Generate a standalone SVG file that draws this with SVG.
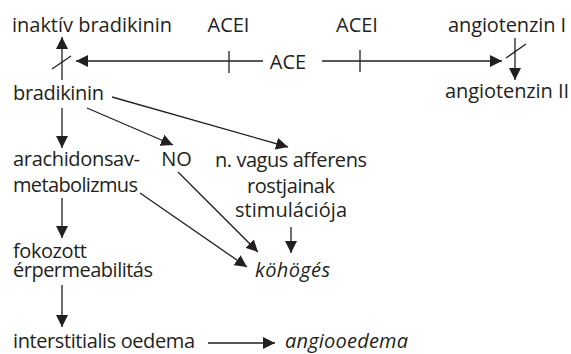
<svg xmlns="http://www.w3.org/2000/svg" width="571" height="354" viewBox="0 0 571 354">
<style>
text{font-family:"Open Sans","Noto Sans",sans-serif;font-size:20px;fill:#231f20}
.it{font-style:italic}
.c{text-anchor:middle}
#connectors line{stroke:#231f20;stroke-width:1.3;fill:none}
</style>
<defs>
<marker id="ah" viewBox="0 0 12 12" refX="12" refY="6" markerWidth="12" markerHeight="12" markerUnits="userSpaceOnUse" orient="auto">
<path d="M0,0 L12,6 L0,12 Z" fill="#231f20"/>
</marker>
</defs>
<rect width="571" height="354" fill="#fff"/>
<g id="n-inaktiv"><text x="12" y="32" textLength="160" lengthAdjust="spacing">inaktív bradikinin</text></g>
<g id="n-acei1"><text class="c" x="228.5" y="32">ACEI</text></g>
<g id="n-acei2"><text class="c" x="357" y="32">ACEI</text></g>
<g id="n-angio1"><text x="448" y="32" textLength="118" lengthAdjust="spacing">angiotenzin I</text></g>
<g id="n-ace"><text class="c" x="288" y="69">ACE</text></g>
<g id="n-bradikinin"><text x="13" y="100" textLength="91" lengthAdjust="spacing">bradikinin</text></g>
<g id="n-angio2"><text x="445" y="98" textLength="124" lengthAdjust="spacing">angiotenzin II</text></g>
<g id="n-arach"><text x="13" y="166" textLength="127" lengthAdjust="spacing">arachidonsav-</text><text x="13" y="192" textLength="125" lengthAdjust="spacing">metabolizmus</text></g>
<g id="n-no"><text class="c" x="176.5" y="166">NO</text></g>
<g id="n-vagus"><text x="215" y="167" textLength="152" lengthAdjust="spacing">n. vagus afferens</text><text x="247" y="193" textLength="88" lengthAdjust="spacing">rostjainak</text><text x="235" y="217" textLength="112" lengthAdjust="spacing">stimulációja</text></g>
<g id="n-kohoges"><text class="it" x="255" y="277" textLength="75" lengthAdjust="spacing">köhögés</text></g>
<g id="n-fokozott"><text x="13" y="258" textLength="74" lengthAdjust="spacing">fokozott</text><text x="13" y="277" textLength="140" lengthAdjust="spacing">érpermeabilitás</text></g>
<g id="n-interst"><text x="13" y="348" textLength="182" lengthAdjust="spacing">interstitialis oedema</text></g>
<g id="n-angiooedema"><text class="it" x="285" y="348" textLength="123" lengthAdjust="spacing">angiooedema</text></g>
<g id="connectors">
<line x1="263" y1="61" x2="76" y2="61" marker-end="url(#ah)"/>
<line x1="322" y1="61" x2="502" y2="61" marker-end="url(#ah)"/>
<line x1="229" y1="51" x2="229" y2="73"/>
<line x1="360" y1="50" x2="360" y2="72"/>
<line x1="62" y1="80" x2="62" y2="37" marker-end="url(#ah)"/>
<line x1="52" y1="69" x2="71" y2="56"/>
<line x1="515" y1="38" x2="515" y2="80" marker-end="url(#ah)"/>
<line x1="506" y1="58" x2="526" y2="44"/>
<line x1="112" y1="97" x2="288" y2="147" marker-end="url(#ah)"/>
<line x1="87" y1="108" x2="173" y2="145" marker-end="url(#ah)"/>
<line x1="62" y1="108" x2="62" y2="148" marker-end="url(#ah)"/>
<line x1="178" y1="172" x2="258" y2="252" marker-end="url(#ah)"/>
<line x1="140" y1="193" x2="247" y2="267" marker-end="url(#ah)"/>
<line x1="291" y1="227" x2="291" y2="253" marker-end="url(#ah)"/>
<line x1="62" y1="198" x2="62" y2="238" marker-end="url(#ah)"/>
<line x1="62" y1="285" x2="62" y2="327" marker-end="url(#ah)"/>
<line x1="208" y1="343" x2="275" y2="343" marker-end="url(#ah)"/>
</g>
</svg>
